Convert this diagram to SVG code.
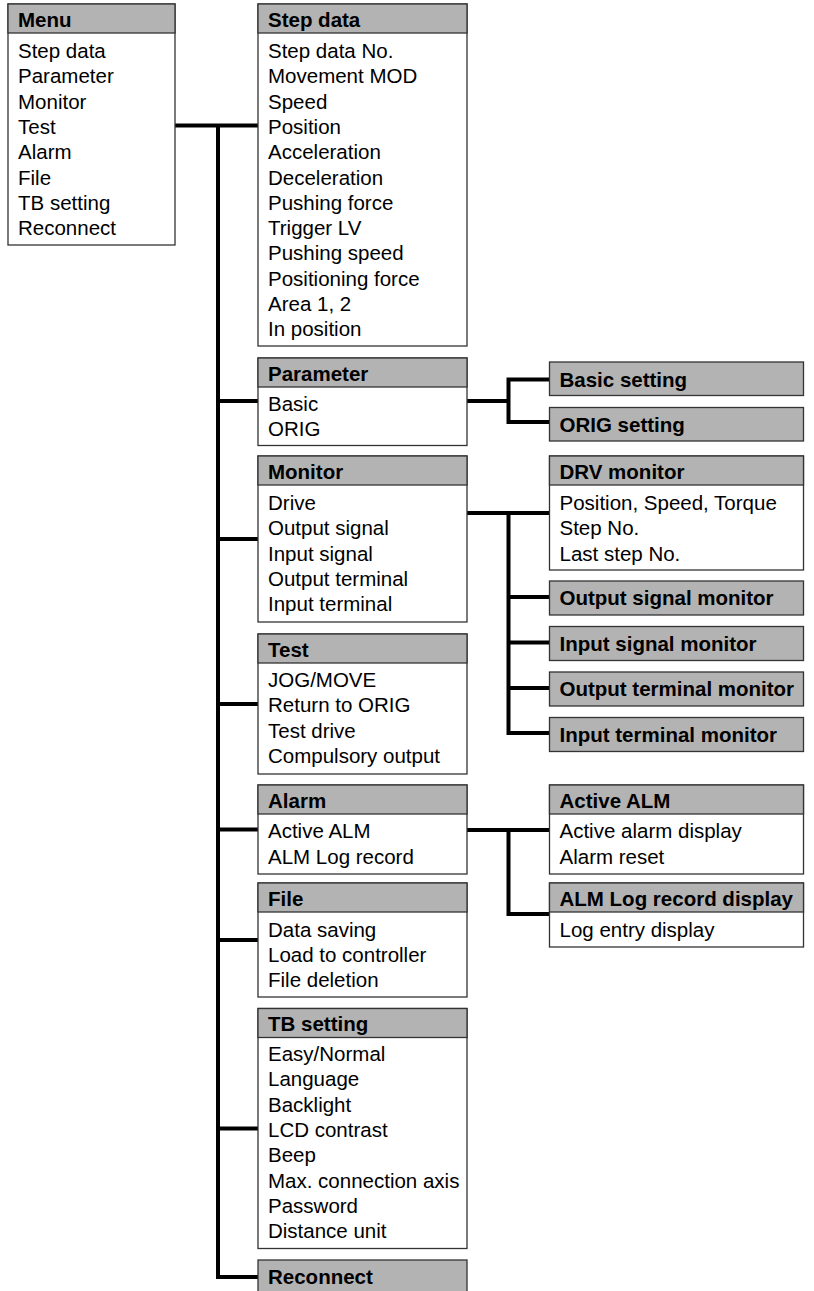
<svg xmlns="http://www.w3.org/2000/svg" width="814" height="1291" viewBox="0 0 814 1291">
<style>
.box{fill:#ffffff;stroke:#333333;stroke-width:1.3}
.hdr{fill:#b3b3b3;stroke:#333333;stroke-width:1.3}
text{font-family:"Liberation Sans",Arial,Helvetica,sans-serif;font-size:20.5px;fill:#000000}
.b{font-weight:bold}
.conn{fill:none;stroke:#000000;stroke-width:4;stroke-linejoin:miter;stroke-linecap:butt}
</style>
<rect x="0" y="0" width="814" height="1291" fill="#ffffff"/>
<g id="connectors">
<path class="conn" d="M175,125.5 H258"/>
<path class="conn" d="M218,125.5 V1277 H258"/>
<path class="conn" d="M218,401 H258"/>
<path class="conn" d="M218,539 H258"/>
<path class="conn" d="M218,704 H258"/>
<path class="conn" d="M218,829.5 H258"/>
<path class="conn" d="M218,940 H258"/>
<path class="conn" d="M218,1128.5 H258"/>
<path class="conn" d="M467,401 H508.5"/>
<path class="conn" d="M549.5,379.5 H508.5 V422 H549.5"/>
<path class="conn" d="M467,513 H549.5"/>
<path class="conn" d="M508.5,513 V733 H549.5"/>
<path class="conn" d="M508.5,597 H549.5"/>
<path class="conn" d="M508.5,642.5 H549.5"/>
<path class="conn" d="M508.5,688 H549.5"/>
<path class="conn" d="M467,830 H549.5"/>
<path class="conn" d="M508.5,830 V914 H549.5"/>
</g>
<g id="menu">
<rect class="box" x="8" y="4" width="167" height="241"/>
<rect class="hdr" x="8" y="4" width="167" height="29"/>
<text class="b" x="18" y="26.7">Menu</text>
<text x="18" y="58">Step data</text>
<text x="18" y="83.3">Parameter</text>
<text x="18" y="108.6">Monitor</text>
<text x="18" y="133.9">Test</text>
<text x="18" y="159.2">Alarm</text>
<text x="18" y="184.5">File</text>
<text x="18" y="209.8">TB setting</text>
<text x="18" y="235.1">Reconnect</text>
</g>
<g id="stepdata">
<rect class="box" x="258" y="4" width="209" height="342"/>
<rect class="hdr" x="258" y="4" width="209" height="29"/>
<text class="b" x="268" y="26.7">Step data</text>
<text x="268" y="58">Step data No.</text>
<text x="268" y="83.3">Movement MOD</text>
<text x="268" y="108.6">Speed</text>
<text x="268" y="133.9">Position</text>
<text x="268" y="159.2">Acceleration</text>
<text x="268" y="184.5">Deceleration</text>
<text x="268" y="209.8">Pushing force</text>
<text x="268" y="235.1">Trigger LV</text>
<text x="268" y="260.4">Pushing speed</text>
<text x="268" y="285.7">Positioning force</text>
<text x="268" y="311">Area 1, 2</text>
<text x="268" y="336.3">In position</text>
</g>
<g id="parameter">
<rect class="box" x="258" y="358" width="209" height="87.5"/>
<rect class="hdr" x="258" y="358" width="209" height="29"/>
<text class="b" x="268" y="380.7">Parameter</text>
<text x="268" y="410.5">Basic</text>
<text x="268" y="435.8">ORIG</text>
</g>
<g id="basicsetting">
<rect class="hdr" x="549.5" y="362" width="254" height="33.5"/>
<text class="b" x="559.5" y="386.5">Basic setting</text>
</g>
<g id="origsetting">
<rect class="hdr" x="549.5" y="407.5" width="254" height="33.5"/>
<text class="b" x="559.5" y="432">ORIG setting</text>
</g>
<g id="monitor">
<rect class="box" x="258" y="456" width="209" height="166"/>
<rect class="hdr" x="258" y="456" width="209" height="29"/>
<text class="b" x="268" y="478.7">Monitor</text>
<text x="268" y="510">Drive</text>
<text x="268" y="535.3">Output signal</text>
<text x="268" y="560.6">Input signal</text>
<text x="268" y="585.9">Output terminal</text>
<text x="268" y="611.2">Input terminal</text>
</g>
<g id="drvmonitor">
<rect class="box" x="549.5" y="456" width="254" height="114"/>
<rect class="hdr" x="549.5" y="456" width="254" height="29"/>
<text class="b" x="559.5" y="478.7">DRV monitor</text>
<text x="559.5" y="510">Position, Speed, Torque</text>
<text x="559.5" y="535.3">Step No.</text>
<text x="559.5" y="560.6">Last step No.</text>
</g>
<g id="outputsignalmonitor">
<rect class="hdr" x="549.5" y="581" width="254" height="34"/>
<text class="b" x="559.5" y="605">Output signal monitor</text>
</g>
<g id="inputsignalmonitor">
<rect class="hdr" x="549.5" y="626.5" width="254" height="34"/>
<text class="b" x="559.5" y="650.5">Input signal monitor</text>
</g>
<g id="outputterminalmonitor">
<rect class="hdr" x="549.5" y="672" width="254" height="34"/>
<text class="b" x="559.5" y="696">Output terminal monitor</text>
</g>
<g id="inputterminalmonitor">
<rect class="hdr" x="549.5" y="717.5" width="254" height="34"/>
<text class="b" x="559.5" y="741.5">Input terminal monitor</text>
</g>
<g id="test">
<rect class="box" x="258" y="634" width="209" height="140"/>
<rect class="hdr" x="258" y="634" width="209" height="29"/>
<text class="b" x="268" y="656.7">Test</text>
<text x="268" y="687">JOG/MOVE</text>
<text x="268" y="712.3">Return to ORIG</text>
<text x="268" y="737.6">Test drive</text>
<text x="268" y="762.9">Compulsory output</text>
</g>
<g id="alarm">
<rect class="box" x="258" y="785" width="209" height="89"/>
<rect class="hdr" x="258" y="785" width="209" height="29"/>
<text class="b" x="268" y="807.7">Alarm</text>
<text x="268" y="838.3">Active ALM</text>
<text x="268" y="863.6">ALM Log record</text>
</g>
<g id="activealm">
<rect class="box" x="549.5" y="785" width="254" height="89"/>
<rect class="hdr" x="549.5" y="785" width="254" height="29"/>
<text class="b" x="559.5" y="807.7">Active ALM</text>
<text x="559.5" y="838.3">Active alarm display</text>
<text x="559.5" y="863.6">Alarm reset</text>
</g>
<g id="almlogrecorddisplay">
<rect class="box" x="549.5" y="883" width="254" height="64"/>
<rect class="hdr" x="549.5" y="883" width="254" height="29"/>
<text class="b" x="559.5" y="905.7">ALM Log record display</text>
<text x="559.5" y="936.7">Log entry display</text>
</g>
<g id="file">
<rect class="box" x="258" y="883" width="209" height="114"/>
<rect class="hdr" x="258" y="883" width="209" height="29"/>
<text class="b" x="268" y="905.7">File</text>
<text x="268" y="936.7">Data saving</text>
<text x="268" y="962">Load to controller</text>
<text x="268" y="987.3">File deletion</text>
</g>
<g id="tbsetting">
<rect class="box" x="258" y="1008.5" width="209" height="240"/>
<rect class="hdr" x="258" y="1008.5" width="209" height="29"/>
<text class="b" x="268" y="1031.2">TB setting</text>
<text x="268" y="1061">Easy/Normal</text>
<text x="268" y="1086.3">Language</text>
<text x="268" y="1111.6">Backlight</text>
<text x="268" y="1136.9">LCD contrast</text>
<text x="268" y="1162.2">Beep</text>
<text x="268" y="1187.5">Max. connection axis</text>
<text x="268" y="1212.8">Password</text>
<text x="268" y="1238.1">Distance unit</text>
</g>
<g id="reconnect">
<rect class="hdr" x="258" y="1260" width="209" height="34"/>
<text class="b" x="268" y="1284">Reconnect</text>
</g>
</svg>
